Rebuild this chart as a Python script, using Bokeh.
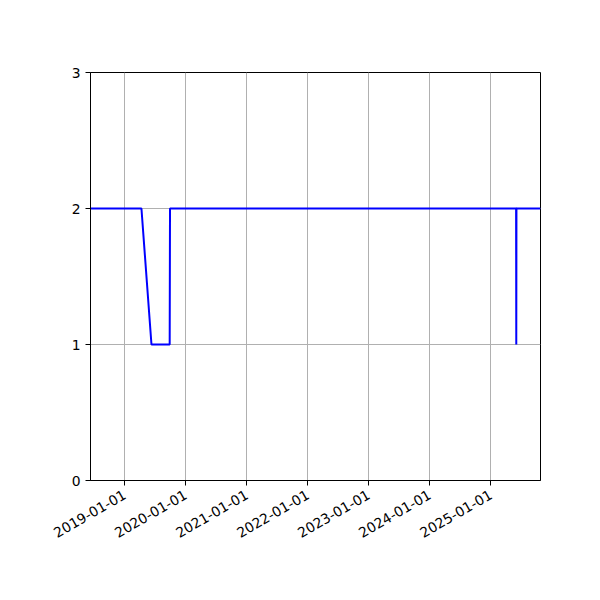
import math
from datetime import datetime
from bokeh.plotting import figure
from bokeh.models import FixedTicker, DatetimeTickFormatter, Range1d
from bokeh.embed import file_html
from bokeh.resources import INLINE

# data
dates = ["2018-06-10", "2019-04-11", "2019-06-10", "2019-09-27", "2019-09-29",
         "2025-06-01", "2025-06-02", "2025-06-03", "2025-10-25"]
values = [2, 2, 1, 1, 2, 2, 1, 2, 2]
tick_dates = ["2019-01-01", "2020-01-01", "2021-01-01", "2022-01-01",
              "2023-01-01", "2024-01-01", "2025-01-01"]
y_ticks = [0, 1, 2, 3]

def ms(s):
    d = datetime.strptime(s, "%Y-%m-%d")
    return (d - datetime(1970, 1, 1)).total_seconds() * 1000.0

xs = [datetime.strptime(d, "%Y-%m-%d") for d in dates]

p = figure(width=584, height=584, x_axis_type="datetime",
           output_backend="svg", toolbar_location=None,
           min_border_left=90, min_border_right=44,
           min_border_top=72, min_border_bottom=104,
           x_range=Range1d(ms(dates[0]), ms(dates[-1])),
           y_range=Range1d(0, 3))

p.line(xs, values, line_color="#0000ff", line_width=2)

p.xaxis.ticker = FixedTicker(ticks=[ms(t) for t in tick_dates])
fmt = "%Y-%m-%d"
p.xaxis.formatter = DatetimeTickFormatter(years=fmt, months=fmt, days=fmt,
                                          hours=fmt, minutes=fmt, seconds=fmt)
p.xaxis.major_label_orientation = math.pi / 6
p.yaxis.ticker = FixedTicker(ticks=y_ticks)

for ax in (p.xaxis, p.yaxis):
    ax.major_label_text_font = "DejaVu Sans"
    ax.major_label_text_font_size = "13.9px"
    ax.major_label_text_color = "black"
    ax.axis_line_color = "black"
    ax.major_tick_line_color = "black"
    ax.major_tick_out = 5
    ax.major_tick_in = 0
    ax.minor_tick_out = 0
    ax.minor_tick_in = 0
    ax.major_label_standoff = 5
p.xaxis.major_label_standoff = 8

p.xgrid.ticker = p.xaxis.ticker
p.ygrid.ticker = p.yaxis.ticker
p.grid.grid_line_color = "#b0b0b0"
p.grid.grid_line_width = 1
p.outline_line_color = "black"
p.outline_line_width = 1
p.background_fill_color = "white"
p.border_fill_color = "white"

open("out.html", "w").write(file_html(p, INLINE))
